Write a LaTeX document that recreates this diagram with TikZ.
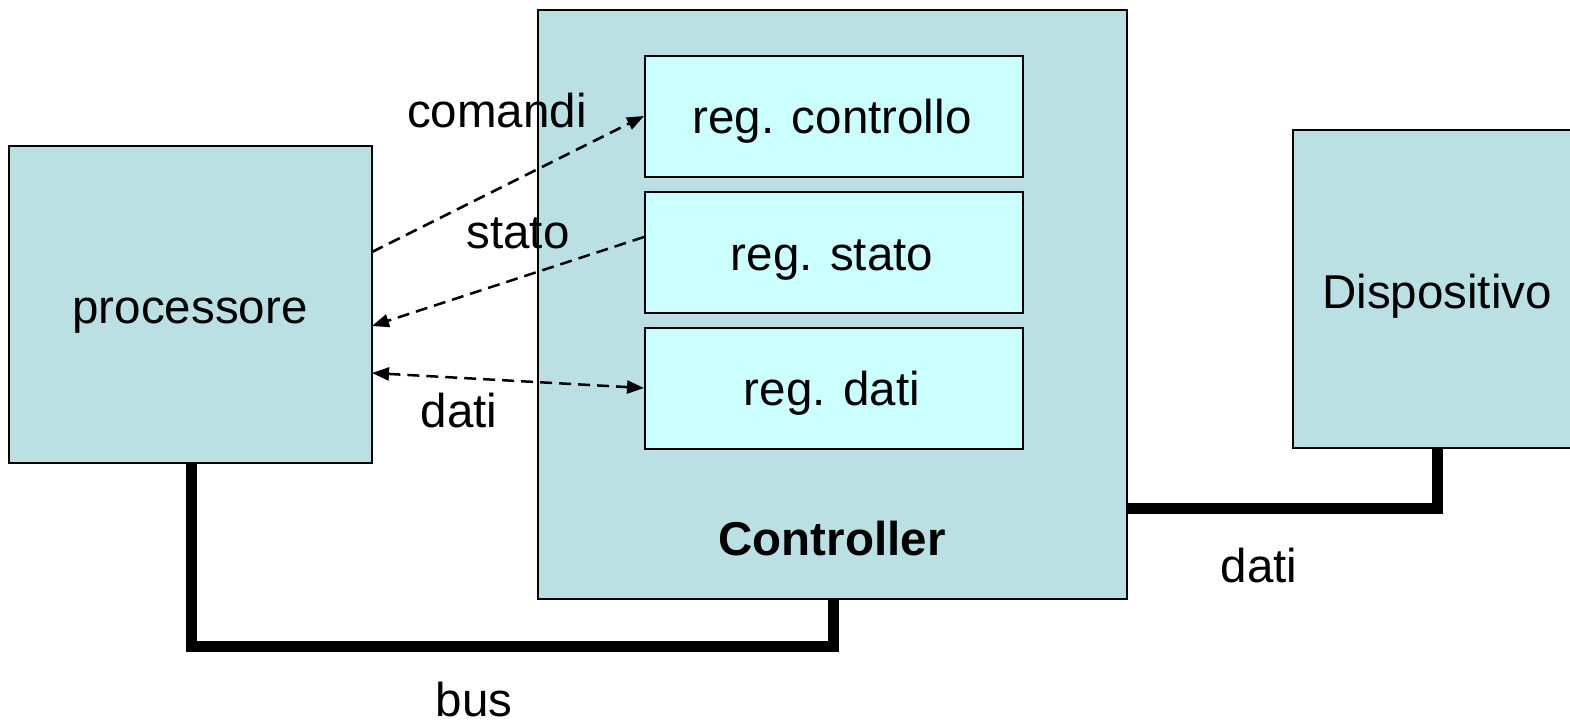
\documentclass[tikz,border=0pt]{standalone}
\usepackage{fontspec}
\setmainfont{Liberation Sans}
\usetikzlibrary{arrows.meta}
\definecolor{outerfill}{HTML}{BBE0E3}
\definecolor{regfill}{HTML}{CCFFFF}
\begin{document}
\begin{tikzpicture}[x=1pt,y=-1pt,
  box/.style={draw=black,line width=2pt,fill=outerfill},
  regbox/.style={draw=black,line width=2pt,fill=regfill,minimum width=378pt,minimum height=121pt,inner sep=0pt,anchor=north west},
  lbl/.style={font=\fontsize{47.5}{57}\selectfont,inner sep=0pt,anchor=base},
  busline/.style={line width=11pt,line cap=butt,line join=miter},
  dashedarrow/.style={line width=2.5pt,dash pattern=on 12pt off 7pt,-{Triangle[length=17pt,width=13pt]}},
  dashedboth/.style={line width=2.5pt,dash pattern=on 12pt off 7pt,{Triangle[length=17pt,width=13pt]}-{Triangle[length=17pt,width=13pt]}}]
\useasboundingbox (0,0) rectangle (1570,721);
\begin{scope}
\clip (0,0) rectangle (1570,721);
% boxes
\draw[box] (9,146) rectangle (372,463);
\draw[box] (538,10) rectangle (1127,599);
\draw[box] (1293,130) rectangle (1581,448);
\end{scope}
\node[lbl] (proc) at (190,323) {processore};
\node[lbl] (disp) at (1437,308) {Dispositivo};
\node[lbl,font=\fontsize{47.5}{57}\selectfont\bfseries] (ctrl) at (832,555) {Controller};
% registers
\node[regbox] (rc) at (644,55) {};
\node[regbox] (rs) at (644,191) {};
\node[regbox] (rd) at (644,327) {};
\node[lbl] (trc) at (832,133) {reg. controllo};
\node[lbl] (trs) at (832,270) {reg. stato};
\node[lbl] (trd) at (832,405) {reg. dati};
% coordinates for connectors
\coordinate (pA) at (372,252);
\coordinate (pB) at (372,326);
\coordinate (pC) at (372,373);
\coordinate (rA) at (644,116);
\coordinate (rB) at (644,237);
\coordinate (rC) at (644,388);
% labels
\node[lbl] (lcom) at (497,127) {comandi};
\node[lbl] (lsta) at (518,248) {stato};
\node[lbl] (ldat) at (459,427) {dati};
% dashed arrows
\draw[dashedarrow] (pA) -- (rA);
\draw[dashedarrow] (rB) -- (pB);
\draw[dashedboth] (pC) -- (rC);
% bus
\coordinate (busA) at (191,463);
\coordinate (busB) at (833,599);
\draw[busline] (busA) -- (191,646) -- (833,646) -- (busB);
\node[lbl] (lbus) at (474,716) {bus};
% dati line
\coordinate (dA) at (1127,508);
\coordinate (dB) at (1437,448);
\draw[busline] (dA) -- (1437,508) -- (dB);
\node[lbl] (ldat2) at (1259,582) {dati};
\end{tikzpicture}
\end{document}
